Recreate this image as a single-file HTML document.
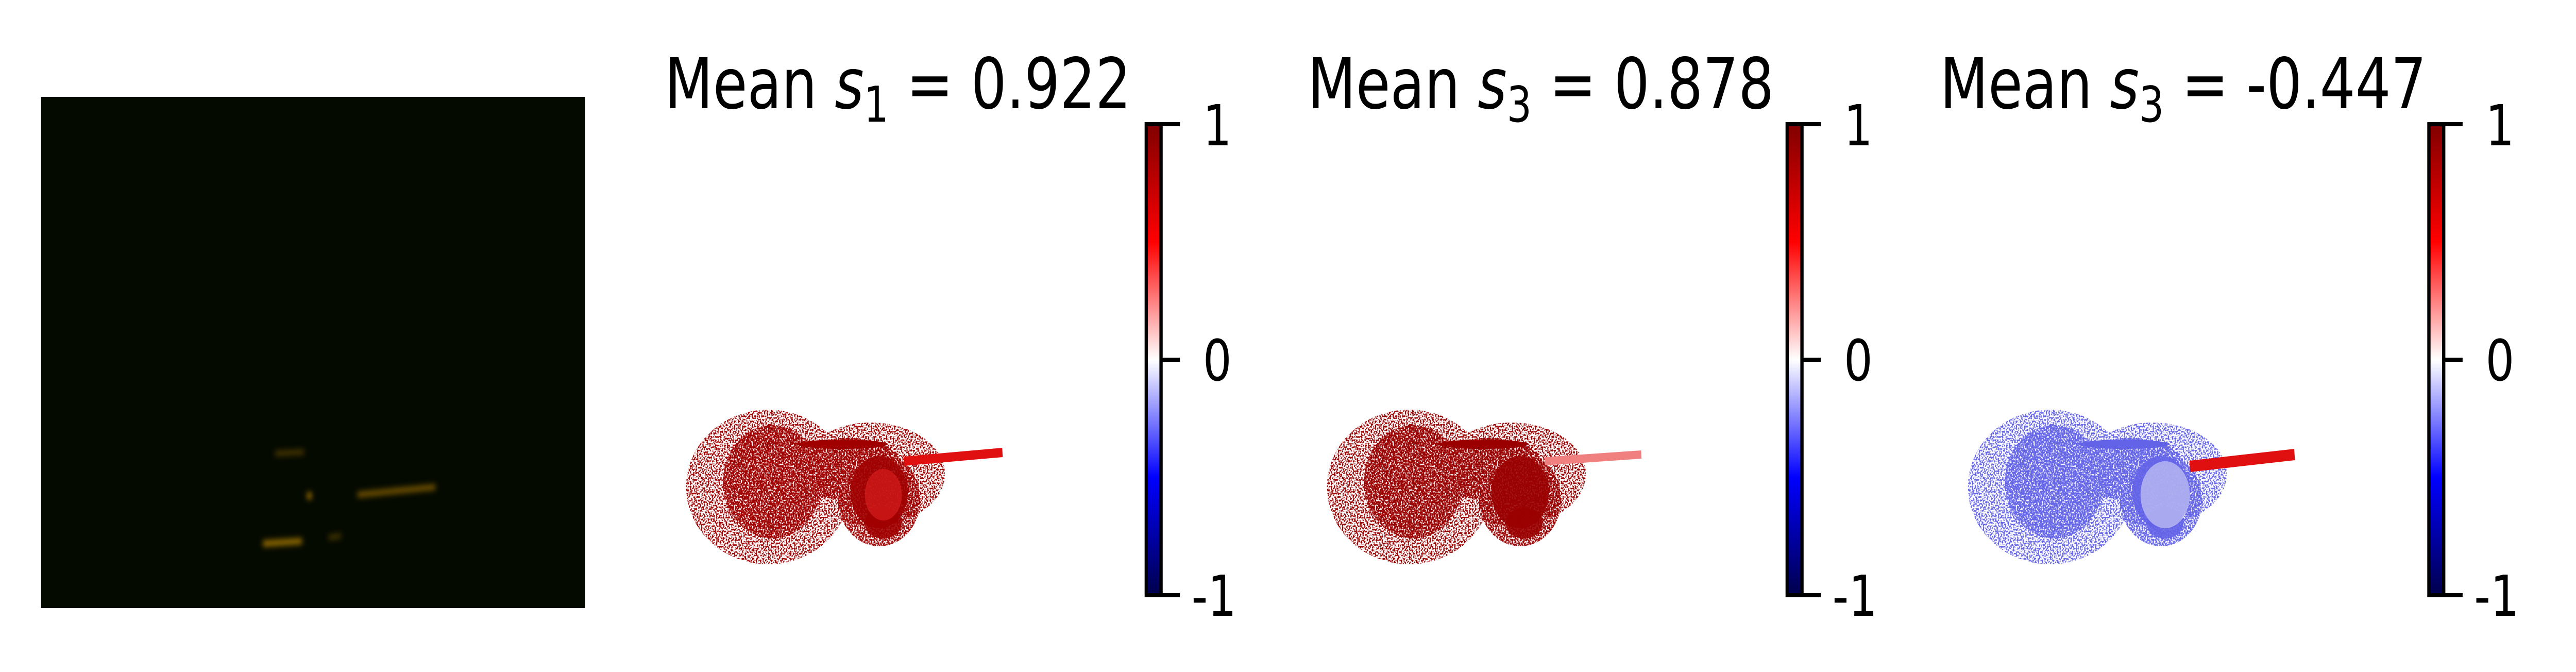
<!DOCTYPE html>
<html><head><meta charset="utf-8"><style>
html,body{margin:0;padding:0;background:#fff;overflow:hidden;}
svg{display:block;width:100vw;height:100vh;}
text{font-family:"DejaVu Sans","Liberation Sans",sans-serif;fill:#000;}
</style></head><body>
<svg viewBox="0 0 6270 1304" preserveAspectRatio="none" xmlns="http://www.w3.org/2000/svg">
<defs>
  <linearGradient id="seis" x1="0" y1="1" x2="0" y2="0">
    <stop offset="0" stop-color="#00004c"/>
    <stop offset="0.25" stop-color="#0000ff"/>
    <stop offset="0.5" stop-color="#ffffff"/>
    <stop offset="0.75" stop-color="#ff0000"/>
    <stop offset="1" stop-color="#800000"/>
  </linearGradient>
  <filter id="speck" x="-10%" y="-10%" width="120%" height="120%">
    <feTurbulence type="fractalNoise" baseFrequency="0.3" numOctaves="1" seed="3" result="n"/>
    <feColorMatrix in="n" type="matrix" values="0 0 0 0 0  0 0 0 0 0  0 0 0 0 0  0 0 0 -5 3.2" result="m"/>
    <feComposite in="SourceGraphic" in2="m" operator="in"/>
  </filter>
  <filter id="speck2" x="-10%" y="-10%" width="120%" height="120%">
    <feTurbulence type="fractalNoise" baseFrequency="0.3" numOctaves="1" seed="7" result="n"/>
    <feColorMatrix in="n" type="matrix" values="0 0 0 0 0  0 0 0 0 0  0 0 0 0 0  0 0 0 -8 4.3" result="m"/>
    <feComposite in="SourceGraphic" in2="m" operator="in"/>
  </filter>
  <filter id="blur"><feGaussianBlur stdDeviation="6"/></filter>
  <g id="blob">
    <g filter="url(#speck2)">
      <ellipse cx="1870" cy="945" rx="200" ry="150"/>
      <ellipse cx="2120" cy="920" rx="180" ry="100"/>
    </g>
    <g filter="url(#speck)">
      <ellipse cx="1880" cy="935" rx="120" ry="110"/>
      <ellipse cx="2060" cy="910" rx="140" ry="60"/>
      <ellipse cx="2140" cy="970" rx="100" ry="90"/>
    </g>
    <ellipse cx="2140" cy="955" rx="70" ry="70" opacity="0.9"/>
    <ellipse cx="2150" cy="1015" rx="45" ry="30" opacity="0.9"/>
    <ellipse cx="2050" cy="862" rx="110" ry="9"/>
  </g>
</defs>

<g>
  <rect x="100" y="188" width="1324" height="992" fill="#050a00"/>
  <g filter="url(#blur)">
    <line x1="670" y1="880" x2="740" y2="877" stroke="#8a6000" stroke-width="5"/>
    <line x1="870" y1="960" x2="1060" y2="945" stroke="#b07a00" stroke-width="7"/>
    <circle cx="753" cy="962" r="6" fill="#d09000"/>
    <line x1="640" y1="1055" x2="735" y2="1050" stroke="#c08a00" stroke-width="9"/>
    <line x1="800" y1="1043" x2="830" y2="1040" stroke="#806000" stroke-width="5"/>
  </g>
</g>

<g>
  <text x="1618" y="210" font-size="136">Mean <tspan font-style="italic">s</tspan><tspan font-size="95" dy="26">1</tspan><tspan dy="-26"> = 0.922</tspan></text>
  <use href="#blob" fill="#a00000"/>
  <line x1="2200" y1="895" x2="2440" y2="878" stroke="#e01010" stroke-width="18"/>
  <ellipse cx="2150" cy="960" rx="45" ry="50" fill="#e02020" opacity="0.6"/>
  <rect x="2790" y="241" width="36" height="914" fill="url(#seis)" stroke="#000" stroke-width="8"/>
  <g stroke="#000" stroke-width="8">
    <line x1="2826" y1="241" x2="2872" y2="241"/><line x1="2826" y1="698" x2="2872" y2="698"/><line x1="2826" y1="1155" x2="2872" y2="1155"/>
  </g>
  <g font-size="110">
    <text x="2928" y="282">1</text><text x="2928" y="738">0</text><text x="2900" y="1195">-1</text>
  </g>
</g>

<g>
  <text x="3183" y="210" font-size="136">Mean <tspan font-style="italic">s</tspan><tspan font-size="95" dy="26">3</tspan><tspan dy="-26"> = 0.878</tspan></text>
  <use href="#blob" x="1560" fill="#9a0000"/>
  <line x1="3760" y1="895" x2="3995" y2="882" stroke="#f08080" stroke-width="16"/>
  <rect x="4350" y="241" width="36" height="914" fill="url(#seis)" stroke="#000" stroke-width="8"/>
  <g stroke="#000" stroke-width="8">
    <line x1="4386" y1="241" x2="4432" y2="241"/><line x1="4386" y1="698" x2="4432" y2="698"/><line x1="4386" y1="1155" x2="4432" y2="1155"/>
  </g>
  <g font-size="110">
    <text x="4488" y="282">1</text><text x="4488" y="738">0</text><text x="4460" y="1195">-1</text>
  </g>
</g>

<g>
  <text x="4722" y="210" font-size="136">Mean <tspan font-style="italic">s</tspan><tspan font-size="95" dy="26">3</tspan><tspan dy="-26"> = -0.447</tspan></text>
  <g opacity="0.75"><use href="#blob" x="3120" fill="#3030e0"/></g>
  <ellipse cx="5270" cy="960" rx="60" ry="65" fill="#c8c8f4" opacity="0.7"/>
  <line x1="5330" y1="905" x2="5585" y2="882" stroke="#e01010" stroke-width="22"/>
  <rect x="5912" y="241" width="36" height="914" fill="url(#seis)" stroke="#000" stroke-width="8"/>
  <g stroke="#000" stroke-width="8">
    <line x1="5948" y1="241" x2="5994" y2="241"/><line x1="5948" y1="698" x2="5994" y2="698"/><line x1="5948" y1="1155" x2="5994" y2="1155"/>
  </g>
  <g font-size="110">
    <text x="6050" y="282">1</text><text x="6050" y="738">0</text><text x="6022" y="1195">-1</text>
  </g>
</g>
</svg>
</body></html>
